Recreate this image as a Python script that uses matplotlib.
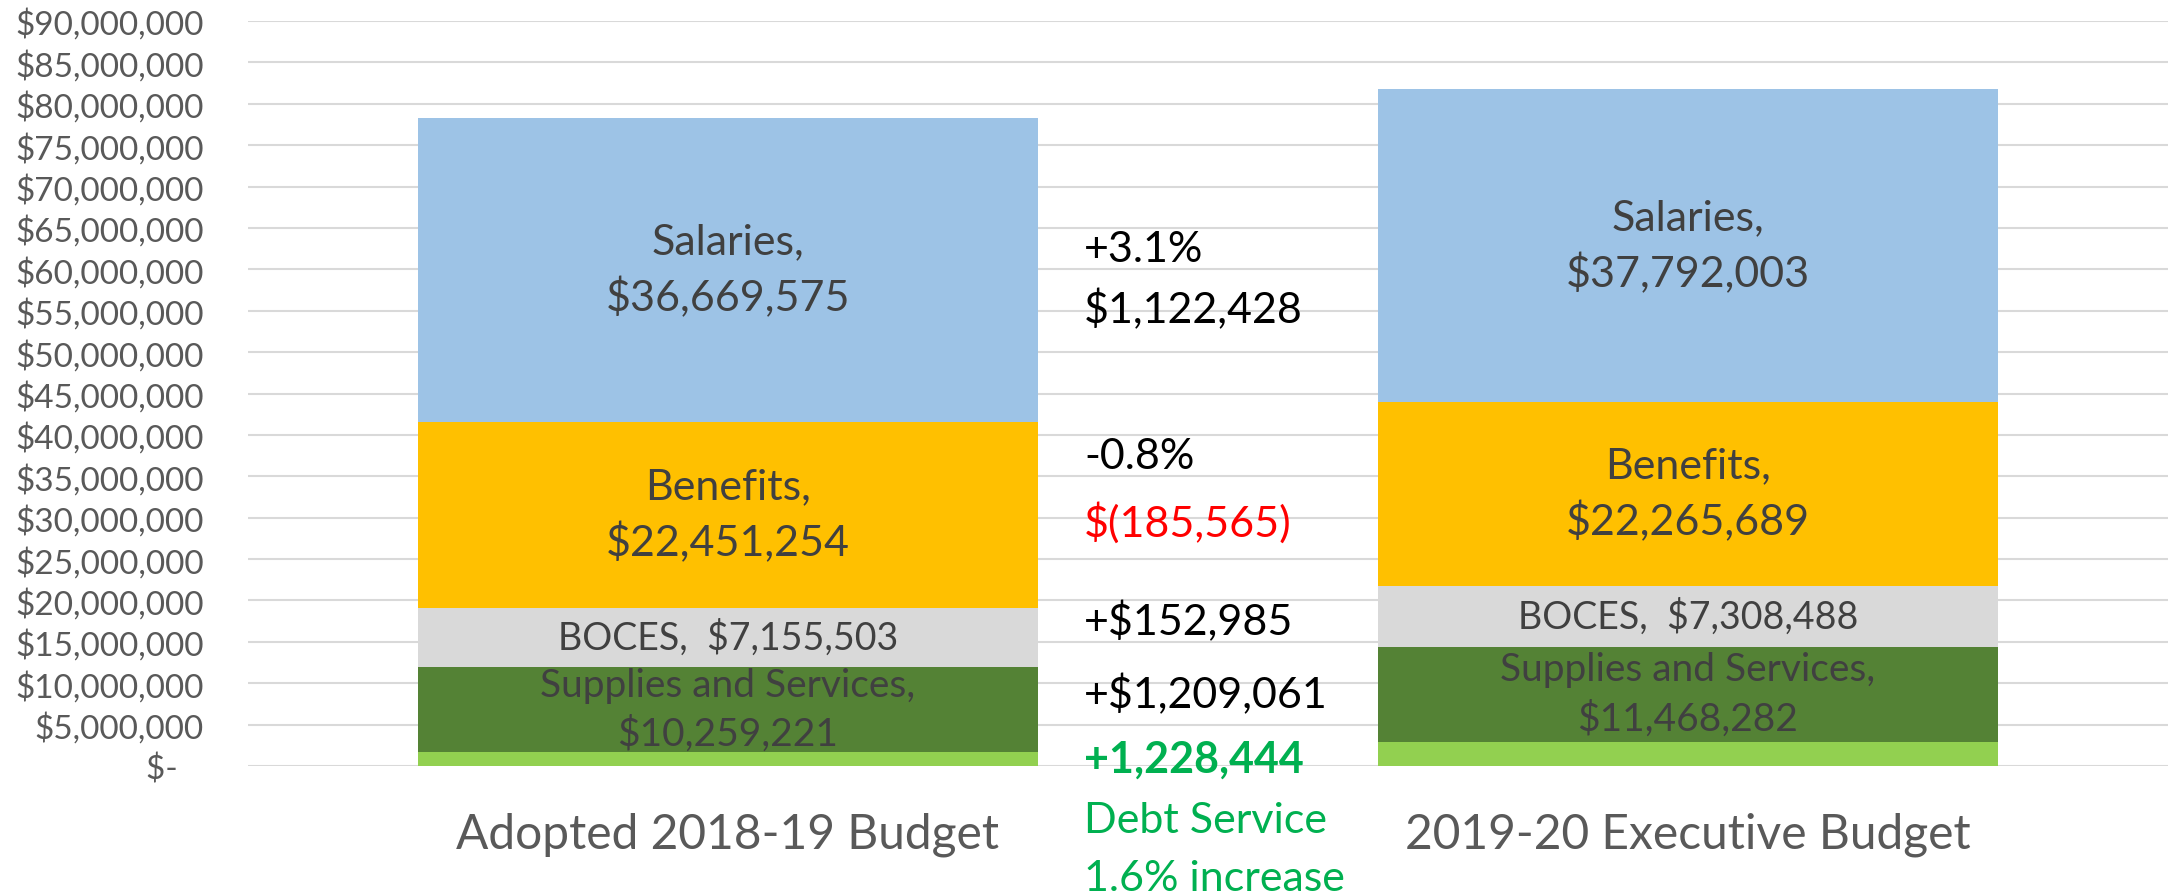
import matplotlib.pyplot as plt
import numpy as np
from matplotlib.ticker import FuncFormatter

plt.rcParams['font.family'] = ['Lato', 'DejaVu Sans']

budgets = ['Adopted 2018-19 Budget', '2019-20 Executive Budget']
segments = ['Debt Service', 'Supplies and Services', 'BOCES', 'Benefits', 'Salaries']
debt = [1720000, 2948444]
supplies = [10259221, 11468282]
boces = [7155503, 7308488]
benefits = [22451254, 22265689]
salaries = [36669575, 37792003]

changes = ['+3.1%', '$1,122,428', '-0.8%', '$(185,565)', '+$152,985', '+$1,209,061',
           '+1,228,444', 'Debt Service', '1.6% increase']
change_y = [62.4e6, 55.3e6, 37.4e6, 29.5e6, 17.6e6, 8.7e6, 0.85e6, -6.5e6, -13.5e6]
change_colors = ['black', 'black', 'black', '#FF0000', 'black', 'black',
                 '#00B050', '#00B050', '#00B050']

colors = ['#92D050', '#548235', '#D9D9D9', '#FFC000', '#9DC3E6']
values = [debt, supplies, boces, benefits, salaries]

fig = plt.figure(figsize=(21.7, 8.95), dpi=100)
ax = fig.add_axes([248 / 2170, 1 - 767 / 895, 1920 / 2170, (767 - 22) / 895])

x = np.arange(len(budgets))
bottom = np.zeros(len(budgets))
width = 0.646
for vals, c in zip(values, colors):
    ax.bar(x, vals, width, bottom=bottom, color=c, zorder=3)
    bottom += np.array(vals)

# data labels
lab = '#404040'
for i in range(len(budgets)):
    b = debt[i]
    ax.text(x[i], b + supplies[i] / 2, 'Supplies and Services,\n$%s' % format(supplies[i], ','),
            ha='center', va='center', fontsize=28, color=lab, zorder=4, linespacing=1.4)
    b += supplies[i]
    ax.text(x[i], b + boces[i] / 2, 'BOCES,  $%s' % format(boces[i], ','),
            ha='center', va='center', fontsize=27, color=lab, zorder=4)
    b += boces[i]
    ax.text(x[i], b + benefits[i] / 2, 'Benefits,\n$%s' % format(benefits[i], ','),
            ha='center', va='center', fontsize=31, color=lab, zorder=4, linespacing=1.45)
    b += benefits[i]
    ax.text(x[i], b + salaries[i] / 2, 'Salaries,\n$%s' % format(salaries[i], ','),
            ha='center', va='center', fontsize=31, color=lab, zorder=4, linespacing=1.45)

for t, yy, c in zip(changes, change_y, change_colors):
    ax.text(0.371, yy, t, ha='left', va='center', fontsize=31, color=c,
            fontweight='bold' if t.startswith('+1,228') else 'normal', clip_on=False)

ax.set_xlim(-0.5, 1.5)
ax.set_ylim(0, 90e6)
ax.set_yticks(np.arange(0, 90e6 + 1, 5e6))
ax.yaxis.set_major_formatter(FuncFormatter(lambda v, p: '$-   ' if v == 0 else '${:,.0f}'.format(v)))
ax.set_xticks(x)
ax.set_xticklabels(budgets)
ax.tick_params(axis='y', length=0, pad=32, labelsize=24, labelcolor='#595959')
ax.tick_params(axis='x', length=0, pad=33, labelsize=34.5, labelcolor='#595959')
ax.grid(axis='y', color='#D9D9D9', linewidth=1.5, zorder=0)
for s in ax.spines.values():
    s.set_visible(False)

fig.savefig('out.png', dpi=100)
